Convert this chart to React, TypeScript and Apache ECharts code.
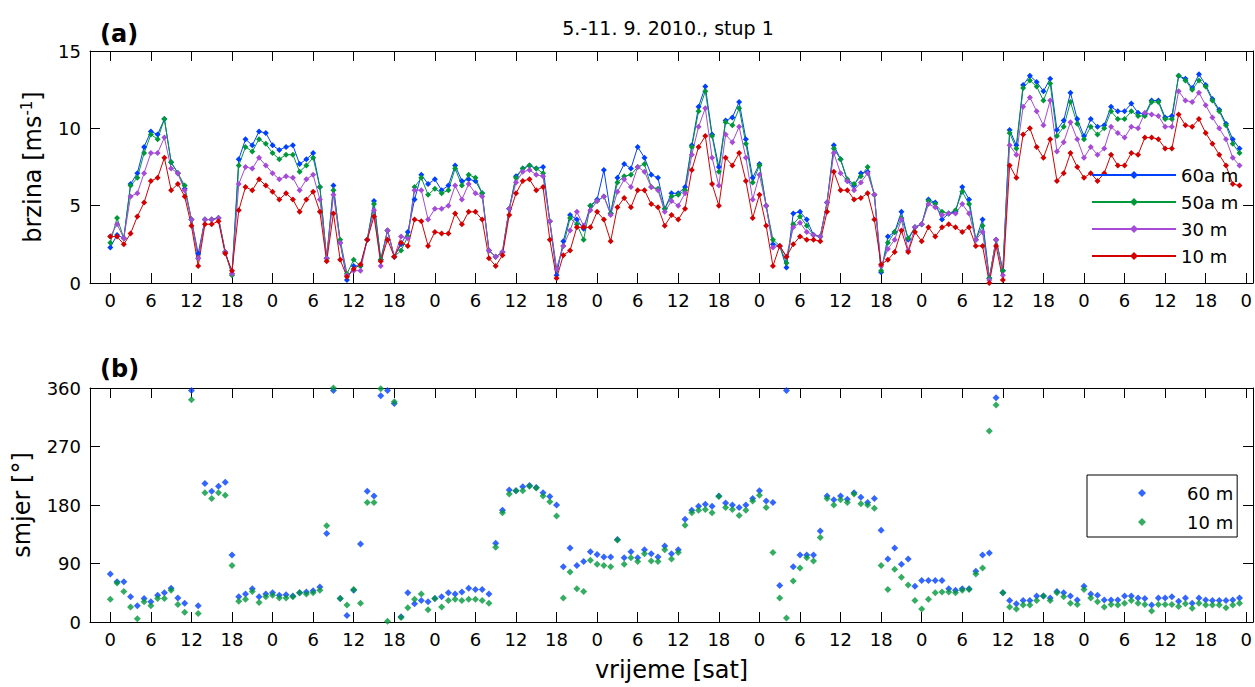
import React, { useEffect, useRef } from "react";
import * as echarts from "echarts";

// ---------- data (hourly, hour 0 .. 167) ----------
const speed60 = [
  2.3, 3.1, 2.9, 6.4, 7.1, 8.8, 9.8, 9.6, 10.6, 7.8,
  7.1, 6.1, 4.1, 1.9, 4.1, 4.1, 4.2, 2.0, 0.6, 8.0,
  9.3, 8.9, 9.8, 9.7, 8.9, 8.6, 8.8, 8.9, 7.7, 8.0,
  8.4, 6.2, 1.6, 6.3, 2.6, 0.2, 1.1, 1.1, 2.8, 5.3,
  1.5, 3.4, 1.7, 2.5, 3.3, 5.4, 7.0, 6.4, 6.7, 6.0,
  6.3, 7.6, 6.6, 6.7, 6.6, 5.8, 2.1, 1.7, 2.0, 4.8,
  6.9, 7.4, 7.6, 7.4, 7.5, 4.0, 0.5, 2.7, 4.4, 4.1,
  3.5, 5.0, 5.4, 7.3, 4.5, 6.8, 7.7, 7.4, 8.8, 8.1,
  7.0, 6.8, 4.8, 5.8, 5.8, 6.2, 8.9, 11.4, 12.7, 9.6,
  7.5, 10.5, 10.7, 11.7, 9.3, 6.8, 7.7, 5.0, 2.5, 2.4,
  1.0, 4.5, 4.6, 4.1, 3.1, 3.0, 5.2, 8.9, 8.0, 6.6,
  6.3, 7.1, 7.2, 5.7, 0.7, 3.0, 3.3, 4.6, 2.8, 3.6,
  3.8, 5.4, 5.2, 4.1, 4.5, 4.6, 6.2, 5.4, 2.8, 4.1,
  0.3, 2.8, 0.8, 9.9, 8.9, 12.8, 13.4, 13.0, 12.4, 13.2,
  9.9, 10.5, 12.3, 10.6, 9.5, 10.6, 10.1, 10.2, 11.4, 11.1,
  11.1, 11.6, 11.0, 10.9, 11.8, 11.8, 10.7, 10.8, 13.4, 13.2,
  12.6, 13.5, 12.8, 11.9, 11.2, 10.3, 9.3, 8.7,
];

const speed50 = [
  2.6, 4.2, 2.9, 6.3, 6.8, 8.4, 9.6, 9.3, 10.6, 7.8,
  7.1, 6.3, 4.1, 1.6, 4.1, 4.1, 4.2, 2.0, 0.5, 7.6,
  8.8, 8.5, 9.3, 9.0, 8.4, 8.0, 8.3, 8.3, 7.2, 7.6,
  8.1, 6.2, 1.6, 6.0, 2.8, 0.6, 1.5, 1.1, 2.8, 5.1,
  1.5, 3.4, 1.7, 2.1, 3.0, 6.2, 6.8, 5.7, 6.1, 5.8,
  6.0, 7.4, 6.3, 7.0, 6.8, 5.8, 2.1, 1.7, 2.0, 4.8,
  6.8, 7.4, 7.6, 7.4, 7.1, 4.0, 0.9, 2.4, 4.2, 3.8,
  2.8, 5.0, 5.3, 5.6, 4.5, 6.5, 6.9, 7.0, 7.5, 7.7,
  6.2, 6.1, 4.8, 5.6, 5.7, 6.0, 8.8, 11.1, 12.4, 9.5,
  7.2, 10.4, 10.2, 11.3, 9.0, 6.5, 7.6, 5.0, 2.8, 2.4,
  1.3, 3.8, 4.3, 3.7, 3.1, 3.0, 5.2, 8.7, 8.0, 6.7,
  6.4, 6.9, 7.5, 5.7, 0.8, 2.6, 3.3, 4.2, 2.9, 3.6,
  3.8, 5.3, 5.1, 4.6, 4.5, 4.7, 5.9, 5.1, 2.8, 3.7,
  0.3, 2.8, 0.8, 9.7, 8.7, 12.6, 13.1, 12.7, 11.8, 12.9,
  9.5, 10.1, 11.7, 10.3, 9.3, 10.1, 9.6, 10.0, 11.1, 10.6,
  10.6, 11.1, 10.8, 10.8, 11.7, 11.7, 10.6, 10.6, 13.4, 13.1,
  12.5, 13.1, 12.7, 11.8, 11.1, 10.2, 9.0, 8.4,
];

const speed30 = [
  3.0, 3.8, 2.9, 5.6, 5.8, 7.1, 8.4, 8.4, 9.4, 7.4,
  7.1, 6.0, 4.1, 1.6, 4.1, 4.1, 4.2, 2.0, 0.6, 6.4,
  7.5, 7.4, 8.1, 7.6, 7.1, 6.7, 6.9, 6.8, 6.0, 6.7,
  7.0, 5.4, 1.6, 5.7, 2.6, 0.5, 0.8, 0.8, 2.8, 4.7,
  1.1, 3.4, 1.7, 3.0, 2.9, 6.0, 6.0, 4.1, 4.8, 4.8,
  5.0, 6.3, 5.4, 6.4, 5.8, 5.6, 2.1, 1.7, 2.0, 4.8,
  6.5, 7.2, 7.3, 7.0, 6.9, 4.0, 0.9, 2.4, 3.4, 4.6,
  3.7, 4.7, 5.3, 5.6, 4.4, 5.9, 6.7, 6.2, 7.5, 7.2,
  6.2, 6.0, 4.6, 5.3, 5.0, 5.8, 8.3, 10.1, 11.3, 8.1,
  6.3, 9.6, 9.1, 10.1, 8.1, 5.4, 7.0, 5.0, 2.3, 2.4,
  1.7, 3.6, 3.9, 3.3, 3.1, 3.0, 5.2, 8.4, 7.1, 6.6,
  6.0, 6.5, 7.1, 5.7, 1.1, 2.2, 2.8, 4.1, 2.1, 3.6,
  3.8, 5.1, 4.9, 4.4, 4.5, 4.5, 5.1, 4.5, 2.8, 3.3,
  0.2, 2.8, 0.5, 8.9, 8.3, 11.4, 12.0, 11.1, 10.2, 11.8,
  8.5, 9.1, 10.4, 9.3, 8.1, 8.8, 8.3, 8.7, 10.1, 9.7,
  9.4, 10.1, 10.0, 11.0, 10.9, 10.8, 10.1, 10.1, 12.4, 11.8,
  11.7, 12.3, 11.5, 10.7, 10.0, 9.3, 8.1, 7.6,
];

const speed10 = [
  3.0, 3.0, 2.5, 3.2, 4.3, 5.2, 6.6, 6.8, 8.1, 6.0,
  6.4, 5.6, 3.7, 1.1, 3.8, 3.8, 4.0, 1.9, 0.8, 4.7,
  6.2, 6.0, 6.7, 6.3, 5.9, 5.4, 5.8, 5.4, 4.6, 5.4,
  5.9, 4.6, 1.4, 4.5, 1.5, 0.4, 0.9, 1.2, 2.8, 4.3,
  1.4, 2.8, 1.7, 2.6, 2.4, 4.1, 4.0, 2.4, 3.3, 3.2,
  3.2, 4.5, 3.8, 4.6, 4.6, 4.1, 1.6, 1.1, 1.8, 4.4,
  5.8, 6.6, 6.7, 6.0, 6.2, 2.8, 0.3, 1.8, 2.1, 3.6,
  3.6, 3.6, 4.6, 4.1, 2.7, 4.9, 5.5, 4.9, 6.0, 6.0,
  5.1, 4.9, 3.7, 4.4, 4.1, 4.8, 7.3, 8.8, 9.5, 6.4,
  5.0, 8.1, 7.6, 8.4, 6.6, 4.2, 5.7, 3.7, 1.1, 2.4,
  1.7, 2.5, 3.0, 2.8, 2.8, 2.7, 4.6, 7.2, 6.0, 6.0,
  5.4, 5.5, 5.8, 4.1, 1.2, 1.5, 2.0, 3.4, 2.0, 3.3,
  2.7, 3.6, 3.0, 3.6, 3.8, 3.6, 3.3, 3.6, 2.4, 2.4,
  0.0, 2.4, 0.2, 7.6, 6.8, 9.6, 10.0, 8.8, 8.1, 9.3,
  6.6, 7.1, 8.4, 7.5, 6.8, 7.1, 6.6, 7.1, 8.3, 7.6,
  7.6, 8.4, 8.3, 9.4, 9.4, 9.3, 8.7, 8.7, 10.9, 10.2,
  10.1, 10.6, 9.7, 9.0, 8.3, 7.6, 6.4, 6.3,
];

const dir60 = [
  74, 62, 62, 39, 25, 36, 31, 41, 45, 52,
  37, 29, 356, 25, 213, 201, 209, 215, 103, 39,
  43, 51, 39, 43, 45, 41, 42, 40, 45, 46,
  48, 54, 136, 356, 36, 10, 49, 120, 201, 194,
  348, 356, 336, 8, 45, 28, 33, 31, 36, 39,
  45, 43, 46, 52, 50, 50, 43, 121, 172, 203,
  202, 208, 210, 207, 199, 193, 180, 85, 114, 87,
  93, 108, 104, 100, 100, 127, 99, 108, 99, 111,
  105, 100, 117, 105, 111, 158, 172, 178, 181, 178,
  194, 183, 180, 176, 180, 190, 202, 186, 184, 56,
  356, 85, 103, 103, 103, 140, 194, 188, 194, 189,
  199, 192, 184, 190, 141, 97, 114, 89, 97, 55,
  64, 64, 64, 64, 51, 49, 51, 51, 78, 103,
  106, 345, 45, 33, 28, 33, 33, 40, 40, 37,
  47, 45, 40, 34, 55, 43, 41, 34, 34, 34,
  40, 40, 37, 36, 26, 37, 37, 39, 32, 37,
  29, 37, 34, 33, 33, 33, 34, 37,
];

const dir10 = [
  35, 60, 47, 23, 5, 31, 25, 36, 36, 49,
  27, 15, 342, 13, 199, 190, 199, 195, 87, 32,
  35, 47, 30, 39, 41, 37, 37, 39, 45, 43,
  45, 49, 148, 360, 36, 26, 50, 29, 184, 184,
  359, 1, 339, 7, 22, 35, 43, 19, 36, 23,
  33, 35, 33, 35, 35, 33, 29, 115, 168, 197,
  202, 202, 209, 206, 194, 185, 163, 37, 77, 51,
  47, 95, 89, 87, 85, 126, 89, 99, 93, 105,
  94, 93, 111, 97, 107, 149, 168, 172, 173, 168,
  193, 176, 173, 164, 172, 186, 195, 176, 107, 37,
  6, 63, 83, 99, 94, 130, 190, 180, 188, 184,
  197, 182, 180, 175, 87, 50, 81, 69, 57, 33,
  20, 35, 45, 46, 46, 45, 49, 50, 74, 83,
  294, 334, 45, 23, 20, 26, 26, 33, 40, 33,
  45, 39, 29, 27, 50, 37, 31, 23, 27, 26,
  29, 33, 29, 27, 17, 27, 27, 27, 24, 28,
  21, 29, 26, 26, 26, 22, 26, 29,
];

const hourTicks = [
  0, 6, 12, 18, 24, 30, 36, 42, 48, 54, 60, 66, 72, 78, 84,
  90, 96, 102, 108, 114, 120, 126, 132, 138, 144, 150, 156, 162, 168,
];
const tickLabels = ["0", "6", "12", "18"];

const speedNames = ["60a m", "50a m", "30 m", "10 m"];
// direction series ids and the labels shown for them in the legend
const dirIds = ["smjer 60", "smjer 10"];
const dirLabels = ["60 m", "10 m"];

const FONT = "DejaVu Sans";
const C_BLUE = "#0040ff";
const C_GREEN = "#00993a";
const C_PURPLE = "#a64ad8";
const C_RED = "#d40000";

export default function App() {
  const ref = useRef<HTMLDivElement>(null);

  useEffect(() => {
    if (!ref.current) return;
    const chart = echarts.init(ref.current, null, { renderer: "svg" });
    const toXY = (arr: number[]) => arr.map((v, i) => [i, v]);

    const axisLine = { show: true, onZero: false, lineStyle: { color: "#000", width: 1 } };

    const makeX = (gridIndex: number, position: string, labels: boolean, name?: string) => ({
      type: "value",
      gridIndex,
      position,
      min: -3,
      max: 169,
      axisLine,
      splitLine: { show: false },
      axisTick: {
        show: true,
        inside: true,
        length: 10,
        customValues: hourTicks,
        lineStyle: { color: "#000", width: 1 },
      },
      axisLabel: {
        show: labels,
        customValues: hourTicks,
        formatter: (v: number) => tickLabels[Math.round(v / 6) % 4],
        fontSize: 18,
        fontFamily: FONT,
        color: "#000",
        margin: 8,
      },
      name: name || "",
      nameLocation: "middle",
      nameGap: 36,
      nameTextStyle: { fontSize: 24, fontFamily: FONT, color: "#000" },
    });

    const makeY = (
      gridIndex: number,
      position: string,
      labels: boolean,
      max: number,
      interval: number,
      name?: string,
      nameGap?: number
    ) => ({
      type: "value",
      gridIndex,
      position,
      min: 0,
      max,
      interval,
      axisLine,
      splitLine: { show: false },
      axisTick: { show: true, inside: true, length: 10, lineStyle: { color: "#000", width: 1 } },
      axisLabel: {
        show: labels,
        fontSize: 18,
        fontFamily: FONT,
        color: "#000",
        margin: 9,
      },
      name: name || "",
      nameLocation: "middle",
      nameGap: nameGap || 40,
      nameTextStyle: {
        fontSize: 24,
        fontFamily: FONT,
        color: "#000",
        rich: {
          sup: { fontSize: 15, fontFamily: FONT, color: "#000", verticalAlign: "top", padding: [0, 0, 12, 0] },
        },
      },
    });

    const lineSeries = (name: string, data: number[], color: string) => ({
      type: "line",
      name,
      xAxisIndex: 0,
      yAxisIndex: 0,
      data: toXY(data),
      symbol: "diamond",
      symbolSize: 6,
      showSymbol: true,
      lineStyle: { color, width: 1 },
      itemStyle: { color },
      emphasis: { disabled: true },
    });

    const scatterSeries = (name: string, data: number[], color: string) => ({
      type: "scatter",
      name,
      xAxisIndex: 2,
      yAxisIndex: 2,
      data: toXY(data),
      symbol: "diamond",
      symbolSize: 7,
      itemStyle: { color },
      emphasis: { disabled: true },
    });

    const option: any = {
      animation: false,
      backgroundColor: "#fff",
      textStyle: { fontFamily: FONT },
      grid: [
        { left: 90, right: 1, top: 51, height: 232 },
        { left: 90, right: 1, top: 388, height: 234 },
      ],
      xAxis: [
        makeX(0, "bottom", true),
        makeX(0, "top", false),
        makeX(1, "bottom", true, "vrijeme [sat]"),
        makeX(1, "top", false),
      ],
      yAxis: [
        makeY(0, "left", true, 15, 5, "brzina [ms{sup|-1}]", 44),
        makeY(0, "right", false, 15, 5),
        makeY(1, "left", true, 360, 90, "smjer [°]", 56),
        makeY(1, "right", false, 360, 90),
      ],
      legend: [
        {
          data: speedNames,
          orient: "vertical",
          left: 1091,
          top: 166,
          padding: 0,
          itemWidth: 84,
          itemHeight: 10,
          itemGap: 9,
          textStyle: { fontSize: 18, fontFamily: FONT, color: "#000", lineHeight: 18 },
          selectedMode: false,
        },
        {
          data: dirIds.map((id) => ({ name: id, icon: "diamond" })),
          formatter: (n: string) => dirLabels[dirIds.indexOf(n)],
          orient: "vertical",
          left: 1087,
          top: 475,
          padding: [9, 4, 6, 51],
          itemWidth: 8,
          itemHeight: 8,
          itemGap: 11,
          borderColor: "#000",
          borderWidth: 1,
          backgroundColor: "#fff",
          textStyle: {
            fontSize: 18,
            fontFamily: FONT,
            color: "#000",
            lineHeight: 18,
            padding: [0, 0, 0, 36],
          },
          selectedMode: false,
        },
      ],
      graphic: [
        {
          type: "text",
          x: 100,
          y: 34,
          style: {
            text: "(a)",
            fontSize: 24,
            fontWeight: "bold",
            fontFamily: FONT,
            fill: "#000",
            align: "left",
            verticalAlign: "middle",
          },
        },
        {
          type: "text",
          x: 100,
          y: 369,
          style: {
            text: "(b)",
            fontSize: 24,
            fontWeight: "bold",
            fontFamily: FONT,
            fill: "#000",
            align: "left",
            verticalAlign: "middle",
          },
        },
        {
          type: "text",
          x: 668,
          y: 28,
          style: {
            text: "5.-11. 9. 2010., stup 1",
            fontSize: 19,
            fontFamily: FONT,
            fill: "#000",
            align: "center",
            verticalAlign: "middle",
          },
        },
      ],
      series: [
        lineSeries(speedNames[0], speed60, C_BLUE),
        lineSeries(speedNames[1], speed50, C_GREEN),
        lineSeries(speedNames[2], speed30, C_PURPLE),
        lineSeries(speedNames[3], speed10, C_RED),
        scatterSeries(dirIds[0], dir60, C_BLUE),
        scatterSeries(dirIds[1], dir10, C_GREEN),
      ],
    };

    chart.setOption(option);
    return () => chart.dispose();
  }, []);

  return (
    <div
      ref={ref}
      style={{ position: "fixed", left: 0, top: 0, width: 1255, height: 687, background: "#fff" }}
    />
  );
}
